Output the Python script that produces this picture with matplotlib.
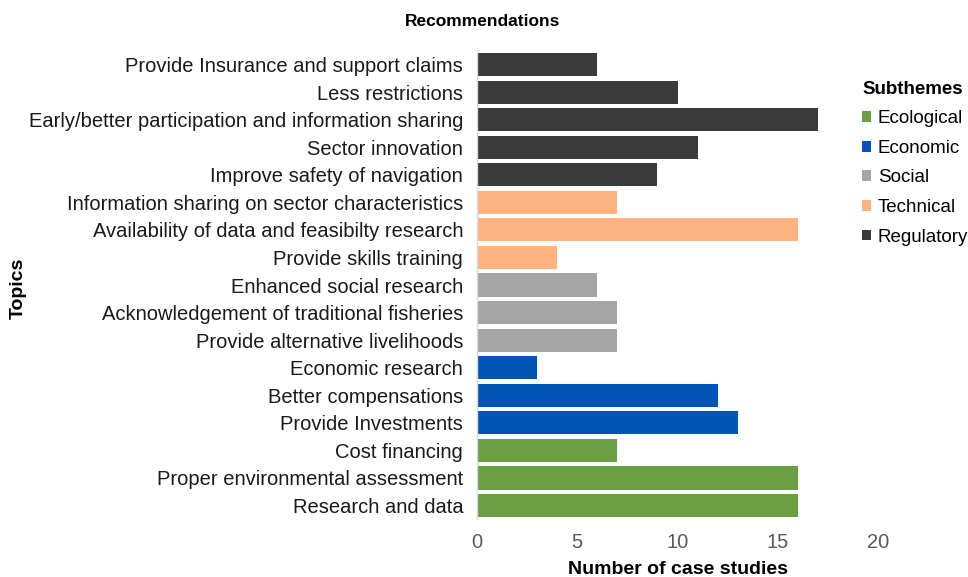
import numpy as np
import matplotlib.pyplot as plt
from matplotlib.patches import Patch

plt.rcParams['font.family'] = ['Liberation Sans', 'DejaVu Sans']

# top to bottom as drawn
topics = [
    "Provide Insurance and support claims",
    "Less restrictions",
    "Early/better participation and information sharing",
    "Sector innovation",
    "Improve safety of navigation",
    "Information sharing on sector characteristics",
    "Availability of data and feasibilty research",
    "Provide skills training",
    "Enhanced social research",
    "Acknowledgement of traditional fisheries",
    "Provide alternative livelihoods",
    "Economic research",
    "Better compensations",
    "Provide Investments",
    "Cost financing",
    "Proper environmental assessment",
    "Research and data",
]
counts = [6, 10, 17, 11, 9, 7, 16, 4, 6, 7, 7, 3, 12, 13, 7, 16, 16]
subtheme = ["Regulatory"] * 5 + ["Technical"] * 3 + ["Social"] * 3 + ["Economic"] * 3 + ["Ecological"] * 3

subthemes = ["Ecological", "Economic", "Social", "Technical", "Regulatory"]
colors = {
    "Ecological": "#6a9f43",
    "Economic": "#0055b4",
    "Social": "#a5a5a5",
    "Technical": "#ffb380",
    "Regulatory": "#3a3a3a",
}

fig = plt.figure(figsize=(9.68, 5.77), dpi=100)
ax = fig.add_axes([0.4928, 0.100, 0.4143, 0.812])

y = np.arange(len(topics))
ax.barh(y, counts, height=0.84, color=[colors[s] for s in subtheme], zorder=2)

ax.set_ylim(len(topics) - 0.5, -0.5)
ax.set_xlim(0, 20)
ax.set_xticks([0, 5, 10, 15, 20])
ax.set_yticks(y)
ax.set_yticklabels(topics, fontsize=14.5, color="#1a1a1a")
ax.tick_params(axis='x', length=0, labelsize=14.5, labelcolor="#595959", pad=10)
ax.tick_params(axis='y', length=0, pad=10)

for side in ["top", "right", "bottom"]:
    ax.spines[side].set_visible(False)
ax.spines["left"].set_color("#d9d9d9")
ax.spines["left"].set_linewidth(1.0)

ax.set_xlabel("Number of case studies", fontsize=14, fontweight="bold", labelpad=6)
fig.text(0.019, 0.50, "Topics", rotation=90, fontsize=14, fontweight="bold", ha="center", va="center")
fig.text(0.499, 0.963, "Recommendations", fontsize=12.5, fontweight="bold", ha="center", va="center")

handles = [Patch(facecolor=colors[s], label=s) for s in subthemes]
leg = fig.legend(handles=handles, title="Subthemes", loc="upper left",
                 bbox_to_anchor=(0.8905, 0.860), frameon=False, fontsize=13.5,
                 title_fontproperties={"weight": "bold", "size": 13.5},
                 handlelength=0.5, handleheight=0.5, handletextpad=0.35,
                 labelspacing=0.67, borderaxespad=0, borderpad=0)
leg._legend_box.align = "left"
leg._legend_box.sep = 9

fig.savefig("out.png", dpi=100)
